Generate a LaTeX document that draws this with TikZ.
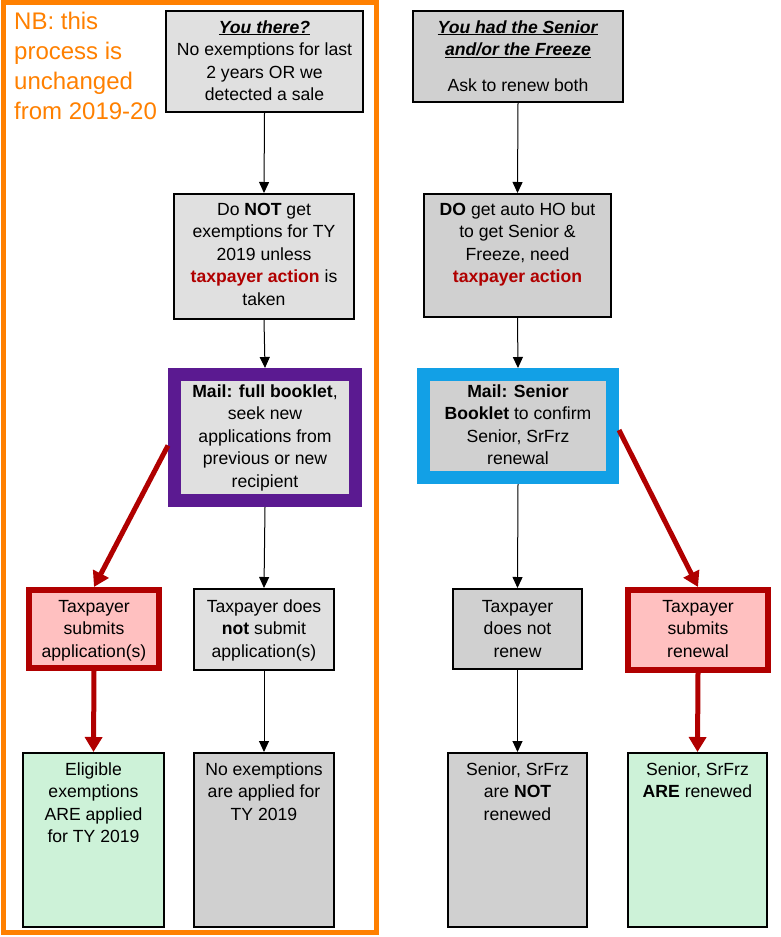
\documentclass[tikz,border=0pt]{standalone}
\usepackage{fontspec}
\setmainfont{Liberation Sans}
\usetikzlibrary{arrows.meta,calc}
\definecolor{lgray}{RGB}{224,224,224}
\definecolor{dgray}{RGB}{208,208,208}
\definecolor{tred}{RGB}{176,0,0}
\definecolor{pinkf}{RGB}{255,192,192}
\definecolor{greenf}{RGB}{205,242,216}
\definecolor{purp}{RGB}{91,26,145}
\definecolor{bluec}{RGB}{18,160,230}
\definecolor{orng}{RGB}{255,128,0}
\begin{document}
\begin{tikzpicture}[x=1pt,y=-1pt,
  box/.style={draw=black,line width=2pt,inner sep=0pt},
  thickbox/.style={line width=13pt,inner sep=0pt},
  redbox/.style={draw=tred,line width=6pt,fill=pinkf,inner sep=0pt},
  txt/.style={font=\fontsize{17.6}{22.6}\selectfont,align=center,anchor=base,inner sep=0pt},
  arr/.style={-{Triangle[width=10pt,length=11pt]},line width=1pt,black},
  rarr/.style={-{Triangle[width=17pt,length=15pt]},line width=5pt,tred}]
\useasboundingbox (0,0) rectangle (780,937);
% orange frame
\draw[orng,line width=5pt] (3,2.5) rectangle (376.5,932.5);
\node[font=\fontsize{24}{30}\selectfont,text=orng,align=left,anchor=base west,inner sep=0pt] (nb) at (14,119)
  {NB: this\\process is\\unchanged\\from 2019-20};
% row 1
\node[box,fill=lgray,minimum width=197pt,minimum height=101pt] (b1) at (264.5,61.5) {};
\node[box,fill=dgray,minimum width=210pt,minimum height=91pt] (r1) at (518,56.5) {};
% row 2
\node[box,fill=lgray,minimum width=180pt,minimum height=125pt] (b2) at (264,256.5) {};
\node[box,fill=dgray,minimum width=187pt,minimum height=123pt] (r2) at (517.5,255.5) {};
% row 3 (mail)
\node[thickbox,draw=purp,fill=lgray,minimum width=181pt,minimum height=126pt] (pp) at (265,437.5) {};
\node[thickbox,draw=bluec,fill=dgray,minimum width=189pt,minimum height=103pt] (bl) at (518,426) {};
% row 4
\node[redbox,minimum width=130pt,minimum height=78pt] (rd1) at (94,629) {};
\node[box,fill=lgray,minimum width=140pt,minimum height=81pt] (g3) at (264,629.5) {};
\node[box,fill=dgray,minimum width=129pt,minimum height=80pt] (rg3) at (517.5,629) {};
\node[redbox,minimum width=140pt,minimum height=80pt] (rd2) at (698,630) {};
% row 5
\node[box,fill=greenf,minimum width=141pt,minimum height=174pt] (gr1) at (93.5,840) {};
\node[box,fill=dgray,minimum width=140pt,minimum height=174pt] (g4) at (264,840) {};
\node[box,fill=dgray,minimum width=139pt,minimum height=174pt] (rg4) at (517.5,840) {};
\node[box,fill=greenf,minimum width=139pt,minimum height=174pt] (gr2) at (697.5,840) {};
% texts (anchor = baseline of last line)
\node[txt] (tb1) at ($(b1.north)+(0,90.8)$) {\underline{\textbf{\textit{You there?}}}\\No exemptions for last\\2 years OR we\\detected a sale};
\node[txt] (tr1) at ($(r1.north)+(0,81.2)$) {\underline{\textbf{\textit{You had the Senior}}}\\\underline{\textbf{\textit{and/or the Freeze}}}\\[13pt]Ask to renew both};
\node[txt] (tb2) at ($(b2.north)+(0,112.4)$) {Do \textbf{NOT} get\\exemptions for TY\\2019 unless\\\textcolor{tred}{\textbf{taxpayer action}} is\\taken};
\node[txt] (tr2) at ($(r2.north)+(0,89.8)$) {\textbf{DO} get auto HO but\\to get Senior \&\\Freeze, need\\\textcolor{tred}{\textbf{taxpayer action}}};
\node[txt] (tpp) at ($(pp.north)+(0,119.4)$) {\textbf{Mail: full booklet},\\seek new\\applications from\\previous or new\\recipient};
\node[txt] (tbl) at ($(bl.north)+(0,96.8)$) {\textbf{Mail: Senior}\\\textbf{Booklet} to confirm\\Senior, SrFrz\\renewal};
\node[txt] (trd1) at ($(rd1.north)+(0,70.2)$) {Taxpayer\\submits\\application(s)};
\node[txt] (tg3) at ($(g3.north)+(0,69.2)$) {Taxpayer does\\\textbf{not} submit\\application(s)};
\node[txt] (trg3) at ($(rg3.north)+(0,69.2)$) {Taxpayer\\does not\\renew};
\node[txt] (trd2) at ($(rd2.north)+(0,70.2)$) {Taxpayer\\submits\\renewal};
\node[txt] (tgr1) at ($(gr1.north)+(0,90.8)$) {Eligible\\exemptions\\ARE applied\\for TY 2019};
\node[txt] (tg4) at ($(g4.north)+(0,68.2)$) {No exemptions\\are applied for\\TY 2019};
\node[txt] (trg4) at ($(rg4.north)+(0,68.2)$) {Senior, SrFrz\\are \textbf{NOT}\\renewed};
\node[txt] (tgr2) at ($(gr2.north)+(0,45.6)$) {Senior, SrFrz\\\textbf{ARE} renewed};
% connectors
\draw[arr] (b1.south) -- (b2.north);
\draw[arr] (r1.south) -- (r2.north);
\draw[arr] (b2.south) -- (pp.north);
\draw[arr] (r2.south) -- (bl.north);
\draw[arr] (pp.south) -- (g3.north);
\draw[arr] (bl.south) -- (rg3.north);
\draw[arr] (g3.south) -- (g4.north);
\draw[arr] (rg3.south) -- (rg4.north);
\draw[rarr] ($(pp.west)+(0,8)$) -- (rd1.north);
\draw[rarr] ($(bl.east)+(0,4)$) -- (rd2.north);
\draw[rarr] (rd1.south) -- (gr1.north);
\draw[rarr] (rd2.south) -- (gr2.north);
\end{tikzpicture}
\end{document}
